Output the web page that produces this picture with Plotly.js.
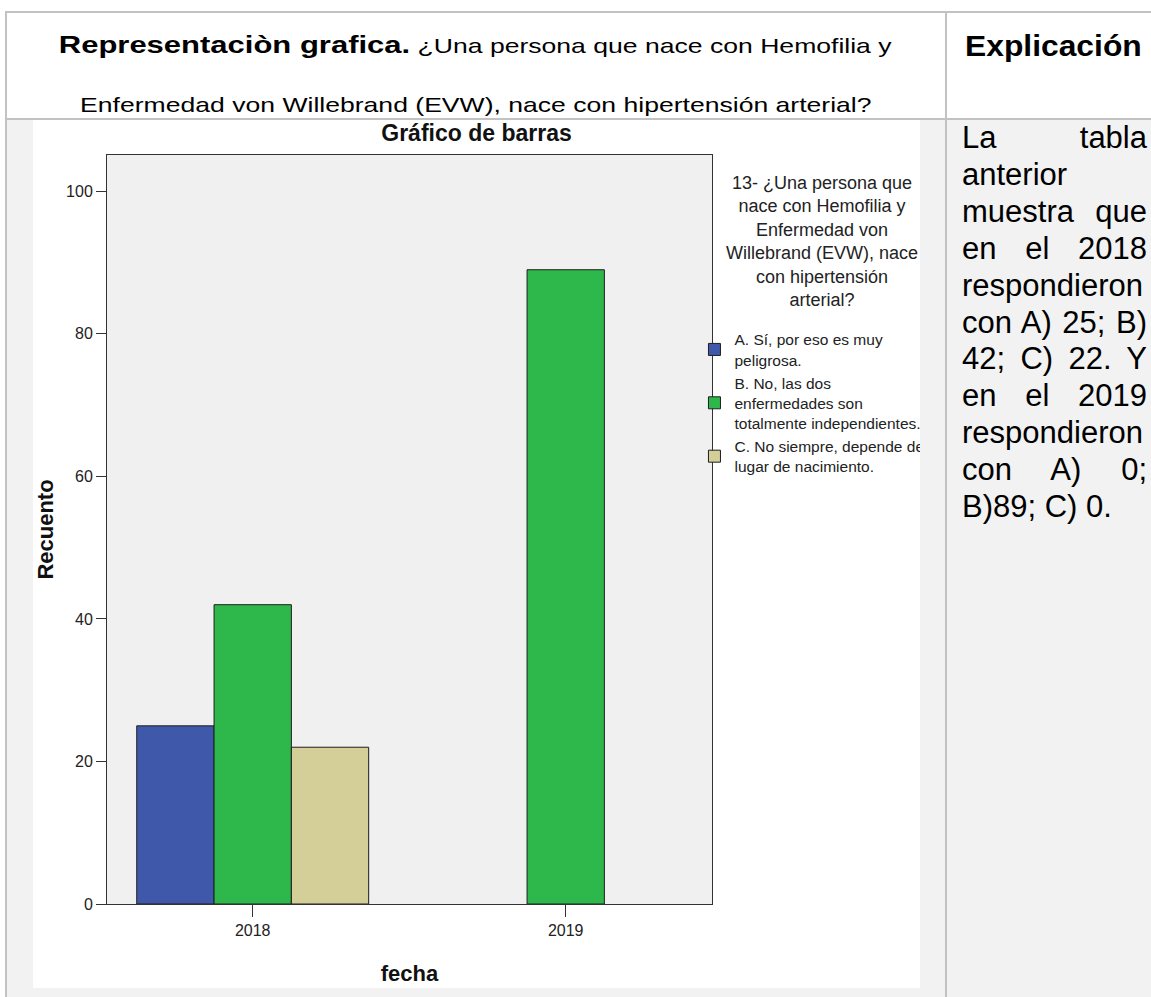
<!DOCTYPE html>
<html>
<head>
<meta charset="utf-8">
<script src="https://cdn.plot.ly/plotly-3.0.1.min.js"></script>
<style>
html,body{margin:0;padding:0;background:#fff;width:1151px;height:997px;overflow:hidden;font-family:"Liberation Sans",Arial,sans-serif;color:#000;}
.ln{position:absolute;background:#c2c2c2;}
#row2{position:absolute;left:6px;top:120px;width:1145px;height:877px;background:#f2f2f2;}
.hl{position:absolute;left:6px;width:939px;text-align:center;white-space:nowrap;font-size:21px;line-height:30px;}
.hl span.in{display:inline-block;transform:scaleX(1.265);transform-origin:50% 50%;}
.hl b{font-size:24.5px;}
#expH{position:absolute;left:947px;top:28px;width:213px;text-align:center;font-weight:bold;font-size:30px;line-height:36px;}
#expH span{display:inline-block;transform:scaleX(1.06);}
#expT{position:absolute;left:962px;top:120px;width:185px;font-size:31px;line-height:36.9px;}
#expT div{text-align:justify;text-align-last:justify;}
#expT div.last{text-align:left;text-align-last:left;}
#chart{position:absolute;left:33px;top:120px;width:887px;height:868px;overflow:hidden;background:#fff;}
</style>
</head>
<body>
<div id="row2"></div>
<div class="ln" style="left:5px;top:11px;width:1146px;height:2px;"></div>
<div class="ln" style="left:5px;top:11px;width:2px;height:986px;"></div>
<div class="ln" style="left:945px;top:11px;width:2px;height:986px;"></div>
<div class="ln" style="left:5px;top:118px;width:1146px;height:2px;"></div>

<div class="hl" style="top:30px;"><span class="in"><b>Representaciòn grafica.</b> ¿Una persona que nace con Hemofilia y</span></div>
<div class="hl" style="top:90px;"><span class="in">Enfermedad von Willebrand (EVW), nace con hipertensión arterial?</span></div>
<div id="expH"><span>Explicación</span></div>
<div id="expT">
<div>La tabla</div>
<div>anterior</div>
<div>muestra que</div>
<div>en el 2018</div>
<div>respondieron</div>
<div>con A) 25; B)</div>
<div>42; C) 22. Y</div>
<div>en el 2019</div>
<div>respondieron</div>
<div>con A) 0;</div>
<div class="last">B)89; C) 0.</div>
</div>

<div id="chart"></div>

<script>
// ---- data ----
const years = ['2018', '2019'];
const countA = [25, 0];
const countB = [42, 89];
const countC = [22, 0];
const seriesNames = [
  'A. Sí, por eso es muy<br>peligrosa.',
  'B. No, las dos<br>enfermedades son<br>totalmente independientes.',
  'C. No siempre, depende del<br>lugar de nacimiento.'
];
const seriesColors = ['#3f58aa', '#2eb84b', '#d4cf98'];
const yTickVals = [0, 20, 40, 60, 80, 100];
const chartTitle = 'Gráfico de barras';
const xTitle = 'fecha';
const yTitle = 'Recuento';
const legendTitle = '13- ¿Una persona que<br>nace con Hemofilia y<br>Enfermedad von<br>Willebrand (EVW), nace<br>con hipertensión<br>arterial?';

const FONT = '"Liberation Sans", Arial, sans-serif';
const seriesValues = [countA, countB, countC];

const traces = seriesValues.map((vals, i) => ({
  type: 'bar',
  x: years,
  y: vals,
  name: seriesNames[i],
  marker: {
    color: seriesColors[i],
    line: {color: '#1e1e1e', width: vals.map(v => (v > 0 ? 1 : 0))}
  }
}));

const axisCommon = {
  showline: true, linecolor: '#333', linewidth: 1, mirror: true,
  ticks: 'outside', tickcolor: '#333', tickwidth: 1,
  showgrid: false, zeroline: false,
  tickfont: {family: FONT, size: 16, color: '#222'}
};

const layout = {
  width: 887, height: 868,
  margin: {l: 74, r: 208, t: 35, b: 84, pad: 0, autoexpand: false},
  paper_bgcolor: '#ffffff',
  plot_bgcolor: '#f0f0f0',
  font: {family: FONT, color: '#222'},
  title: {
    text: '<b>' + chartTitle + '</b>',
    font: {family: FONT, size: 23, color: '#111'},
    xref: 'container', x: 0.5, xanchor: 'center',
    yref: 'container', y: 0.985, yanchor: 'middle'
  },
  barmode: 'group',
  bargap: 0.259,
  bargroupgap: 0,
  xaxis: Object.assign({}, axisCommon, {
    type: 'category',
    range: [-0.4655, 1.4674],
    ticklen: 12,
    title: {text: '<b>' + xTitle + '</b>', font: {family: FONT, size: 22, color: '#111'}, standoff: 27}
  }),
  yaxis: Object.assign({}, axisCommon, {
    range: [0, 105.1],
    tickvals: yTickVals,
    ticklen: 10,
    title: {text: '<b>' + yTitle + '</b>', font: {family: FONT, size: 22, color: '#111'}, standoff: 15}
  }),
  showlegend: true,
  legend: {
    x: 0.971, xanchor: 'left',
    y: 0.776, yanchor: 'top',
    font: {family: FONT, size: 15.5, color: '#222'},
    bgcolor: 'rgba(0,0,0,0)',
    tracegroupgap: 0,
    itemwidth: 30
  },
  annotations: [{
    text: legendTitle,
    xref: 'paper', yref: 'paper',
    x: 1.1818, y: 0.885,
    xanchor: 'center', yanchor: 'middle',
    align: 'center', showarrow: false,
    font: {family: FONT, size: 18, color: '#222'}
  }]
};

Plotly.newPlot('chart', traces, layout, {staticPlot: true, displayModeBar: false});
</script>
</body>
</html>
